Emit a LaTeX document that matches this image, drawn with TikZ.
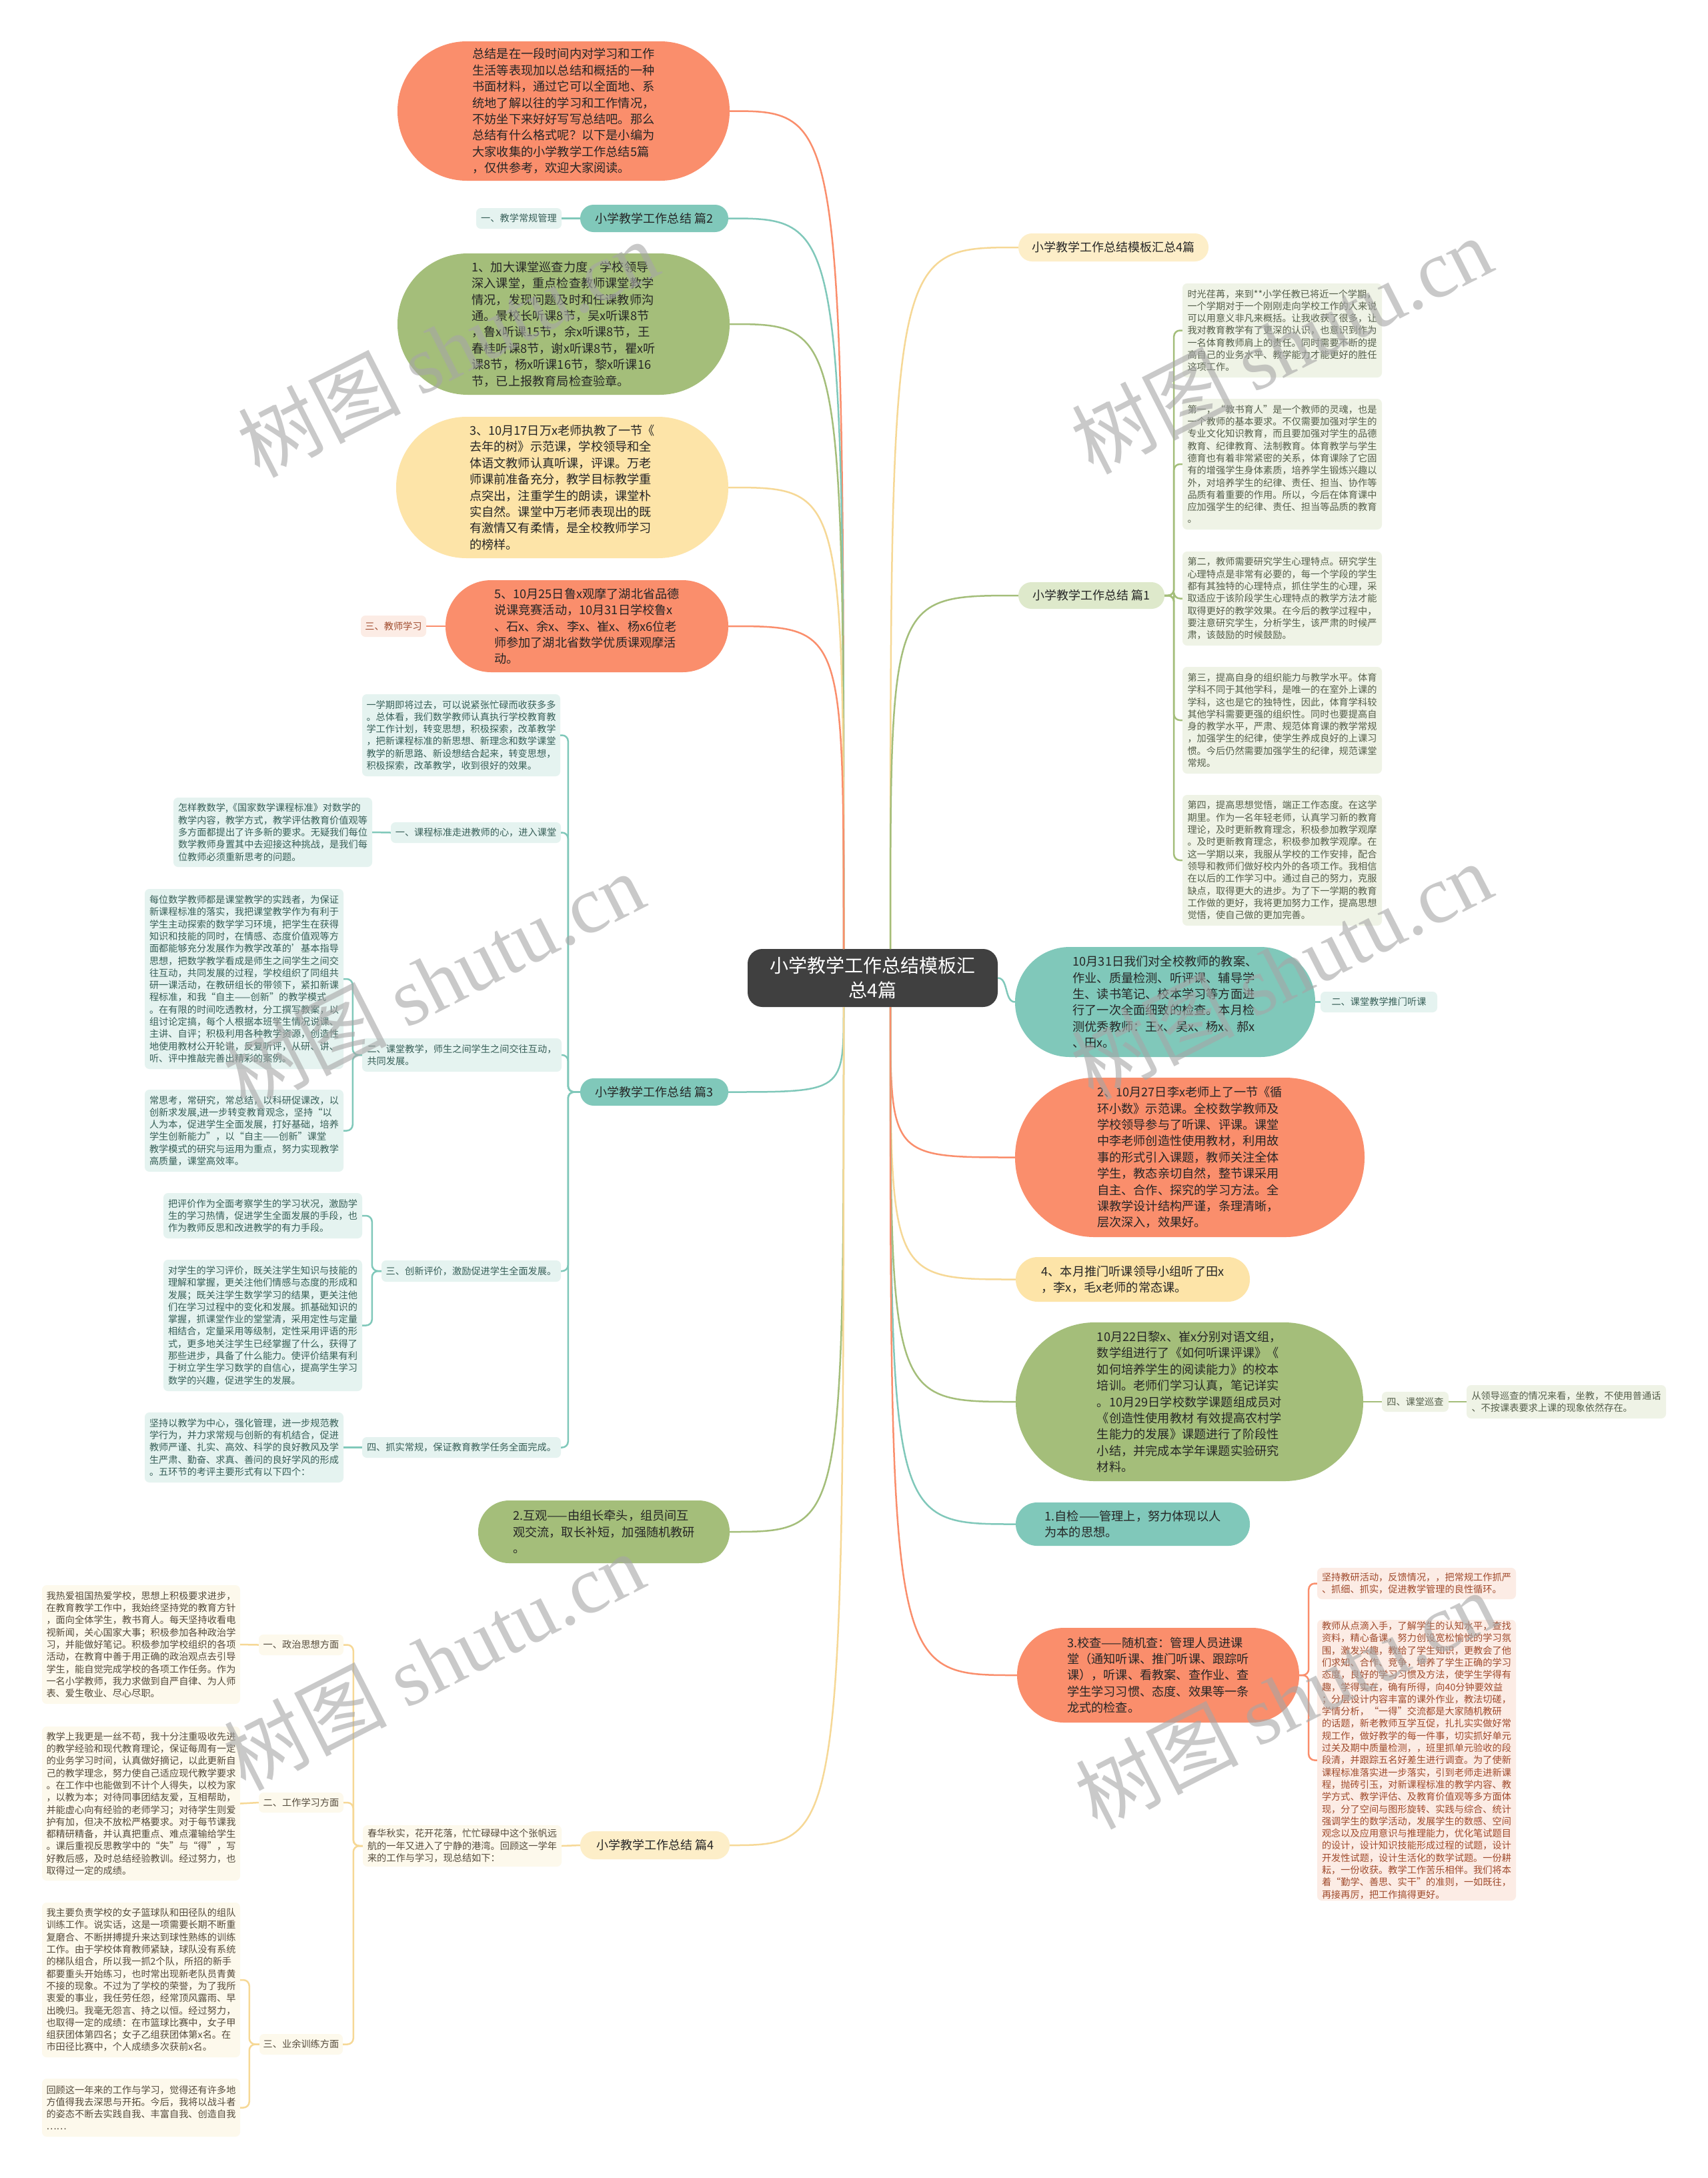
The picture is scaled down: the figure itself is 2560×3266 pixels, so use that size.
\documentclass[tikz,border=0pt]{standalone}
\usepackage{fontspec}
\setmainfont{Noto Sans CJK SC}
\newfontfamily\wmserif{Liberation Serif}
\usetikzlibrary{calc}
\definecolor{tealL}{RGB}{128,200,186}
\definecolor{tealBg}{RGB}{229,243,240}
\definecolor{tealTx}{RGB}{55,95,88}
\definecolor{grn}{RGB}{164,190,122}
\definecolor{grnP}{RGB}{222,233,203}
\definecolor{grnBg}{RGB}{239,243,230}
\definecolor{grnTx}{RGB}{85,95,75}
\definecolor{yel}{RGB}{253,228,168}
\definecolor{yelP}{RGB}{253,238,200}
\definecolor{yelLn}{RGB}{246,216,150}
\definecolor{yelBg}{RGB}{253,249,236}
\definecolor{yelTx}{RGB}{85,75,60}
\definecolor{sal}{RGB}{250,142,108}
\definecolor{salBg}{RGB}{252,236,229}
\definecolor{salTx}{RGB}{160,75,45}
\definecolor{rootc}{RGB}{64,64,64}
\newcommand\NB[7]{%
  \pgfmathsetmacro\cx{(#3+#5)/2}%
  \pgfmathsetmacro\cy{(#4+#6)/2}%
  \pgfmathsetmacro\ww{#5-#3}%
  \pgfmathsetmacro\hh{#6-#4}%
  \pgfmathsetmacro\rr{\hh/2-0.5}%
  \node[#2,minimum width=\ww pt,minimum height=\hh pt] (#1) at (\cx,\cy) {#7};}
\tikzset{
  bub/.style={inner sep=0pt,align=left,rounded corners=\rr pt,font=\fontsize{18.2}{24.4}\selectfont,text=black!85},
  pill/.style={inner sep=0pt,align=center,rounded corners=\rr pt,font=\fontsize{18}{22}\selectfont,text=black!85},
  tbox/.style={inner sep=0pt,align=left,rounded corners=7pt,font=\fontsize{14.2}{18.3}\selectfont},
  cn/.style={line width=2.5pt},
  wm/.style={rotate=27,text=black!35,opacity=0.6,font=\fontsize{122}{122}\selectfont}
}
\begin{document}
\begin{tikzpicture}[x=1pt,y=-1pt]
\fill[white] (0,0) rectangle (2560,3266);
\useasboundingbox (0,0) rectangle (2560,3266);
% root
\NB{root}{inner sep=0pt,rounded corners=22pt,fill=rootc,text=white,align=center,font=\fontsize{28}{37}\selectfont}{1121}{1423}{1496}{1510}{小学教学工作总结模板汇\\总4篇}
% left upper
\NB{intro}{bub,fill=sal}{596}{62}{1094}{271}{总结是在一段时间内对学习和工作\\生活等表现加以总结和概括的一种\\书面材料，通过它可以全面地、系\\统地了解以往的学习和工作情况，\\不妨坐下来好好写写总结吧。那么\\总结有什么格式呢？以下是小编为\\大家收集的小学教学工作总结5篇\\，仅供参考，欢迎大家阅读。}
\NB{p2}{pill,fill=tealL}{870}{307}{1092}{348}{小学教学工作总结 篇2}
\NB{p2a}{tbox,fill=tealBg,text=tealTx}{714}{312}{842}{343}{一、教学常规管理}
\NB{b1}{bub,fill=grn}{596}{380}{1094}{592}{1、加大课堂巡查力度，学校领导\\深入课堂，重点检查教师课堂教学\\情况，发现问题及时和任课教师沟\\通。景校长听课8节，吴x听课8节\\，鲁x听课15节，余x听课8节，王\\春桂听课8节，谢x听课8节，瞿x听\\课8节，杨x听课16节，黎x听课16\\节，已上报教育局检查验章。}
\NB{b3}{bub,fill=yel}{594}{625}{1092}{837}{3、10月17日万x老师执教了一节《\\去年的树》示范课，学校领导和全\\体语文教师认真听课，评课。万老\\师课前准备充分，教学目标教学重\\点突出，注重学生的朗读，课堂朴\\实自然。课堂中万老师表现出的既\\有激情又有柔情，是全校教师学习\\的榜样。}
\NB{b5}{bub,fill=sal}{668}{870}{1092}{1008}{5、10月25日鲁x观摩了湖北省品德\\说课竞赛活动，10月31日学校鲁x\\、石x、余x、李x、崔x、杨x6位老\\师参加了湖北省数学优质课观摩活\\动。}
\NB{b5a}{tbox,fill=salBg,text=salTx}{541}{923}{639}{955}{三、教师学习}
% pian 3
\NB{p3}{pill,fill=tealL}{870}{1617}{1092}{1658}{小学教学工作总结 篇3}
\NB{c0}{tbox,fill=tealBg,text=tealTx}{543}{1041}{840}{1164}{一学期即将过去，可以说紧张忙碌而收获多多\\。总体看，我们数学教师认真执行学校教育教\\学工作计划，转变思想，积极探索，改革教学\\，把新课程标准的新思想、新理念和数学课堂\\教学的新思路、新设想结合起来，转变思想，\\积极探索，改革教学，收到很好的效果。}
\NB{c1}{tbox,fill=tealBg,text=tealTx}{586}{1233}{841}{1264}{一、课程标准走进教师的心，进入课堂}
\NB{c1a}{tbox,fill=tealBg,text=tealTx}{260}{1196}{558}{1300}{怎样教数学,《国家数学课程标准》对数学的\\教学内容，教学方式，教学评估教育价值观等\\多方面都提出了许多新的要求。无疑我们每位\\数学教师身置其中去迎接这种挑战，是我们每\\位教师必须重新思考的问题。}
\NB{c2}{tbox,fill=tealBg,text=tealTx}{543}{1557}{842}{1607}{二、课堂教学，师生之间学生之间交往互动，\\共同发展。}
\NB{c2a}{tbox,fill=tealBg,text=tealTx}{217}{1333}{515}{1603}{每位数学教师都是课堂教学的实践者，为保证\\新课程标准的落实，我把课堂教学作为有利于\\学生主动探索的数学学习环境，把学生在获得\\知识和技能的同时，在情感、态度价值观等方\\面都能够充分发展作为教学改革的'基本指导\\思想，把数学教学看成是师生之间学生之间交\\往互动，共同发展的过程，学校组织了同组共\\研一课活动，在教研组长的带领下，紧扣新课\\程标准，和我“自主——创新”的教学模式\\。在有限的时间吃透教材，分工撰写教案，以\\组讨论定搞，每个人根据本班学生情况说课、\\主讲、自评；积极利用各种教学资源，创造性\\地使用教材公开轮讲，反复听评，从研、讲、\\听、评中推敲完善出精彩的案例。}
\NB{c2b}{tbox,fill=tealBg,text=tealTx}{217}{1634}{515}{1757}{常思考，常研究，常总结，以科研促课改，以\\创新求发展,进一步转变教育观念，坚持“以\\人为本，促进学生全面发展，打好基础，培养\\学生创新能力”，以“自主——创新”课堂\\教学模式的研究与运用为重点，努力实现教学\\高质量，课堂高效率。}
\NB{c3}{tbox,fill=tealBg,text=tealTx}{572}{1890}{841}{1922}{三、创新评价，激励促进学生全面发展。}
\NB{c3a}{tbox,fill=tealBg,text=tealTx}{245}{1789}{543}{1857}{把评价作为全面考察学生的学习状况，激励学\\生的学习热情，促进学生全面发展的手段，也\\作为教师反思和改进教学的有力手段。}
\NB{c3b}{tbox,fill=tealBg,text=tealTx}{245}{1889}{543}{2086}{对学生的学习评价，既关注学生知识与技能的\\理解和掌握，更关注他们情感与态度的形成和\\发展；既关注学生数学学习的结果，更关注他\\们在学习过程中的变化和发展。抓基础知识的\\掌握，抓课堂作业的堂堂清，采用定性与定量\\相结合，定量采用等级制，定性采用评语的形\\式，更多地关注学生已经掌握了什么，获得了\\那些进步，具备了什么能力。使评价结果有利\\于树立学生学习数学的自信心，提高学生学习\\数学的兴趣，促进学生的发展。}
\NB{c4}{tbox,fill=tealBg,text=tealTx}{543}{2155}{841}{2186}{四、抓实常规，保证教育教学任务全面完成。}
\NB{c4a}{tbox,fill=tealBg,text=tealTx}{217}{2118}{515}{2223}{坚持以教学为中心，强化管理，进一步规范教\\学行为，并力求常规与创新的有机结合，促进\\教师严谨、扎实、高效、科学的良好教风及学\\生严肃、勤奋、求真、善问的良好学风的形成\\。五环节的考评主要形式有以下四个：}
\NB{hu}{bub,fill=grn}{717}{2250}{1094}{2344}{2.互观——由组长牵头，组员间互\\观交流，取长补短，加强随机教研\\。}
% pian 4
\NB{p4}{pill,fill=yelP}{870}{2746}{1094}{2788}{小学教学工作总结 篇4}
\NB{d0}{tbox,fill=yelBg,text=yelTx}{544}{2737}{842}{2799}{春华秋实，花开花落，忙忙碌碌中这个张帆远\\航的一年又进入了宁静的港湾。回顾这一学年\\来的工作与学习，现总结如下：}
\NB{d1}{tbox,fill=yelBg,text=yelTx}{388}{2451}{515}{2482}{一、政治思想方面}
\NB{d1a}{tbox,fill=yelBg,text=yelTx}{63}{2377}{360}{2555}{我热爱祖国热爱学校，思想上积极要求进步，\\在教育教学工作中，我始终坚持党的教育方针\\，面向全体学生，教书育人。每天坚持收看电\\视新闻，关心国家大事；积极参加各种政治学\\习，并能做好笔记。积极参加学校组织的各项\\活动，在教育中善于用正确的政治观点去引导\\学生，能自觉完成学校的各项工作任务。作为\\一名小学教师，我力求做到自严自律、为人师\\表、爱生敬业、尽心尽职。}
\NB{d2}{tbox,fill=yelBg,text=yelTx}{388}{2688}{515}{2718}{二、工作学习方面}
\NB{d2a}{tbox,fill=yelBg,text=yelTx}{63}{2589}{360}{2820}{教学上我更是一丝不苟，我十分注重吸收先进\\的教学经验和现代教育理论，保证每周有一定\\的业务学习时间，认真做好摘记，以此更新自\\己的教学理念，努力使自己适应现代教学要求\\。在工作中也能做到不计个人得失，以校为家\\，以教为本；对待同事团结友爱，互相帮助，\\并能虚心向有经验的老师学习；对待学生则爱\\护有加，但决不放松严格要求。对于每节课我\\都精研精备，并认真把重点、难点灌输给学生\\。课后重视反思教学中的“失”与“得”，写\\好教后感，及时总结经验教训。经过努力，也\\取得过一定的成绩。}
\NB{d3}{tbox,fill=yelBg,text=yelTx}{389}{3050}{514}{3081}{三、业余训练方面}
\NB{d3a}{tbox,fill=yelBg,text=yelTx}{63}{2853}{360}{3085}{我主要负责学校的女子篮球队和田径队的组队\\训练工作。说实话，这是一项需要长期不断重\\复磨合、不断拼搏提升来达到球性熟练的训练\\工作。由于学校体育教师紧缺，球队没有系统\\的梯队组合，所以我一抓2个队，所招的新手\\都要重头开始练习，也时常出现新老队员青黄\\不接的现象。不过为了学校的荣誉，为了我所\\衷爱的事业，我任劳任怨，经常顶风露雨、早\\出晚归。我毫无怨言、持之以恒。经过努力，\\也取得一定的成绩：在市篮球比赛中，女子甲\\组获团体第四名；女子乙组获团体第x名。在\\市田径比赛中，个人成绩多次获前x名。}
\NB{d3b}{tbox,fill=yelBg,text=yelTx}{63}{3117}{360}{3204}{回顾这一年来的工作与学习，觉得还有许多地\\方值得我去深思与开拓。今后，我将以战斗者\\的姿态不断去实践自我、丰富自我、创造自我\\……}
% right side
\NB{sum4}{pill,fill=yelP}{1527}{350}{1812}{392}{小学教学工作总结模板汇总4篇}
\NB{p1}{pill,fill=grnP}{1527}{873}{1746}{913}{小学教学工作总结 篇1}
\NB{r1a}{tbox,fill=grnBg,text=grnTx}{1773}{425}{2072}{566}{时光荏苒，来到**小学任教已将近一个学期，\\一个学期对于一个刚刚走向学校工作的人来说\\可以用意义非凡来概括。让我收获了很多，让\\我对教育教学有了更深的认识，也意识到作为\\一名体育教师肩上的责任。同时需要不断的提\\高自己的业务水平、教学能力才能更好的胜任\\这项工作。}
\NB{r1b}{tbox,fill=grnBg,text=grnTx}{1773}{598}{2072}{794}{第一，“教书育人”是一个教师的灵魂，也是\\一个教师的基本要求。不仅需要加强对学生的\\专业文化知识教育，而且要加强对学生的品德\\教育、纪律教育、法制教育。体育教学与学生\\德育也有着非常紧密的关系，体育课除了它固\\有的增强学生身体素质，培养学生锻炼兴趣以\\外，对培养学生的纪律、责任、担当、协作等\\品质有着重要的作用。所以，今后在体育课中\\应加强学生的纪律、责任、担当等品质的教育\\。}
\NB{r1c}{tbox,fill=grnBg,text=grnTx}{1773}{827}{2072}{968}{第二，教师需要研究学生心理特点。研究学生\\心理特点是非常有必要的，每一个学段的学生\\都有其独特的心理特点，抓住学生的心理，采\\取适应于该阶段学生心理特点的教学方法才能\\取得更好的教学效果。在今后的教学过程中，\\要注意研究学生，分析学生，该严肃的时候严\\肃，该鼓励的时候鼓励。}
\NB{r1d}{tbox,fill=grnBg,text=grnTx}{1773}{1000}{2072}{1160}{第三，提高自身的组织能力与教学水平。体育\\学科不同于其他学科，是唯一的在室外上课的\\学科，这也是它的独特性，因此，体育学科较\\其他学科需要更强的组织性。同时也要提高自\\身的教学水平，严肃、规范体育课的教学常规\\，加强学生的纪律，使学生养成良好的上课习\\惯。今后仍然需要加强学生的纪律，规范课堂\\常规。}
\NB{r1e}{tbox,fill=grnBg,text=grnTx}{1773}{1192}{2072}{1388}{第四，提高思想觉悟，端正工作态度。在这学\\期里。作为一名年轻老师，认真学习新的教育\\理论，及时更新教育理念，积极参加教学观摩\\。及时更新教育理念，积极参加教学观摩。在\\这一学期以来，我服从学校的工作安排，配合\\领导和教师们做好校内外的各项工作。我相信\\在以后的工作学习中。通过自己的努力，克服\\缺点，取得更大的进步。为了下一学期的教育\\工作做的更好，我将更加努力工作，提高思想\\觉悟，使自己做的更加完善。}
\NB{t31}{bub,fill=tealL}{1522}{1420}{1972}{1585}{10月31日我们对全校教师的教案、\\作业、质量检测、听评课、辅导学\\生、读书笔记、校本学习等方面进\\行了一次全面细致的检查。本月检\\测优秀教师：王x、吴x、杨x、郝x\\、田x。}
\NB{t31a}{tbox,fill=tealBg,text=tealTx}{1980}{1487}{2155}{1518}{二、课堂教学推门听课}
\NB{s27}{bub,fill=sal}{1522}{1616}{2046}{1855}{2、10月27日李x老师上了一节《循\\环小数》示范课。全校数学教师及\\学校领导参与了听课、评课。课堂\\中李老师创造性使用教材，利用故\\事的形式引入课题，教师关注全体\\学生，教态亲切自然，整节课采用\\自主、合作、探究的学习方法。全\\课教学设计结构严谨，条理清晰，\\层次深入，效果好。}
\NB{y4}{bub,fill=yel}{1523}{1885}{1874}{1952}{4、本月推门听课领导小组听了田x\\，李x，毛x老师的常态课。}
\NB{g22}{bub,fill=grn}{1523}{1983}{2044}{2221}{10月22日黎x、崔x分别对语文组，\\数学组进行了《如何听课评课》《\\如何培养学生的阅读能力》的校本\\培训。老师们学习认真，笔记详实\\。10月29日学校数学课题组成员对\\《创造性使用教材 有效提高农村学\\生能力的发展》课题进行了阶段性\\小结，并完成本学年课题实验研究\\材料。}
\NB{g22a}{tbox,fill=grnBg,text=grnTx}{2072}{2087}{2172}{2117}{四、课堂巡查}
\NB{g22b}{tbox,fill=grnBg,text=grnTx}{2199}{2077}{2498}{2127}{从领导巡查的情况来看，坐教，不使用普通话\\、不按课表要求上课的现象依然存在。}
\NB{zj}{bub,fill=tealL}{1523}{2253}{1874}{2318}{1.自检——管理上，努力体现以人\\为本的思想。}
\NB{xc}{bub,fill=sal}{1525}{2441}{1948}{2583}{3.校查——随机查：管理人员进课\\堂（通知听课、推门听课、跟踪听\\课），听课、看教案、查作业、查\\学生学习习惯、态度、效果等一条\\龙式的检查。}
\NB{xc1}{tbox,fill=salBg,text=salTx}{1975}{2351}{2273}{2398}{坚持教研活动，反馈情况，，把常规工作抓严\\、抓细、抓实，促进教学管理的良性循环。}
\NB{xc2}{tbox,fill=salBg,text=salTx}{1975}{2429}{2273}{2850}{教师从点滴入手，了解学生的认知水平，查找\\资料，精心备课，努力创设宽松愉悦的学习氛\\围，激发兴趣，教给了学生知识，更教会了他\\们求知、合作、竞争，培养了学生正确的学习\\态度，良好的学习习惯及方法，使学生学得有\\趣，学得实在，确有所得，向40分钟要效益\\；分层设计内容丰富的课外作业，教法切磋，\\学情分析，“一得”交流都是大家随机教研\\的话题，新老教师互学互促，扎扎实实做好常\\规工作，做好教学的每一件事，切实抓好单元\\过关及期中质量检测，，班里抓单元验收的段\\段清，并跟踪五名好差生进行调查。为了使新\\课程标准落实进一步落实，引到老师走进新课\\程，抛砖引玉，对新课程标准的教学内容、教\\学方式、教学评估、及教育价值观等多方面体\\现，分了空间与图形旋转、实践与综合、统计\\强调学生的数学活动，发展学生的数感、空间\\观念以及应用意识与推理能力，优化笔试题目\\的设计，设计知识技能形成过程的试题，设计\\开发性试题，设计生活化的数学试题。一份耕\\耘，一份收获。教学工作苦乐相伴。我们将本\\着“勤学、善思、实干”的准则，一如既往，\\再接再厉，把工作搞得更好。}
% root connectors
\coordinate (AL) at (1265,1423);
\coordinate (AR) at (1335,1423);
\coordinate (BL) at (1265,1510);
\coordinate (BR) at (1335,1510);
\draw[cn,sal] (AL) .. controls (AL |- intro.east) .. (intro.east);
\draw[cn,tealL] (AL) .. controls (AL |- p2.east) .. (p2.east);
\draw[cn,grn] (AL) .. controls (AL |- b1.east) .. (b1.east);
\draw[cn,yelLn] (AL) .. controls (AL |- b3.east) .. (b3.east);
\draw[cn,sal] (AL) .. controls (AL |- b5.east) .. (b5.east);
\draw[cn,tealL] (BL) .. controls (BL |- p3.east) .. (p3.east);
\draw[cn,grn] (BL) .. controls (BL |- hu.east) .. (hu.east);
\draw[cn,yelLn] (BL) .. controls (BL |- p4.east) .. (p4.east);
\draw[cn,yelLn] (AR) .. controls (AR |- sum4.west) .. (sum4.west);
\draw[cn,grn] (AR) .. controls (AR |- p1.west) .. (p1.west);
\draw[cn,tealL] (root.east) .. controls +(16,0) and +(-16,0) .. (t31.west);
\draw[cn,sal] (BR) .. controls (BR |- s27.west) .. (s27.west);
\draw[cn,yelLn] (BR) .. controls (BR |- y4.west) .. (y4.west);
\draw[cn,grn] (BR) .. controls (BR |- g22.west) .. (g22.west);
\draw[cn,tealL] (BR) .. controls (BR |- zj.west) .. (zj.west);
\draw[cn,sal] (BR) .. controls (BR |- xc.west) .. (xc.west);
% child connectors
\draw[cn,tealL] (p2.west) -- (p2a.east);
\draw[cn,sal] (b5.west) -- (b5a.east);
\foreach \t in {c0,c1,c2,c3,c4}{\draw[cn,tealL,rounded corners=9pt] (p3.west) -- ++(-18,0) |- (\t.east);}
\draw[cn,tealL] (c1.west) -- (c1a.east);
\foreach \t in {c2a,c2b}{\draw[cn,tealL,rounded corners=9pt] (c2.west) -- ++(-14,0) |- (\t.east);}
\foreach \t in {c3a,c3b}{\draw[cn,tealL,rounded corners=9pt] (c3.west) -- ++(-14,0) |- (\t.east);}
\draw[cn,tealL] (c4.west) -- (c4a.east);
\draw[cn,yelLn] (p4.west) -- (d0.east);
\foreach \t in {d1,d2,d3}{\draw[cn,yelLn,rounded corners=9pt] (d0.west) -- ++(-14,0) |- (\t.east);}
\draw[cn,yelLn] (d1.west) -- (d1a.east);
\draw[cn,yelLn] (d2.west) -- (d2a.east);
\foreach \t in {d3a,d3b}{\draw[cn,yelLn,rounded corners=9pt] (d3.west) -- ++(-15,0) |- (\t.east);}
\foreach \t in {r1a,r1b,r1c,r1d,r1e}{\draw[cn,grn,rounded corners=9pt] (p1.east) -- ++(14,0) |- (\t.west);}
\draw[cn,tealL] (t31.east) -- (t31a.west);
\draw[cn,grn] (g22.east) -- (g22a.west);
\draw[cn,grn] (g22a.east) -- (g22b.west);
\foreach \t in {xc1,xc2}{\draw[cn,sal,rounded corners=9pt] (xc.east) -- ++(14,0) |- (\t.west);}
% watermarks
\node[wm] (w1) at (671,522) {树图 {\wmserif shutu.cn}};
\node[wm] (w2) at (1921,517) {树图 {\wmserif shutu.cn}};
\node[wm] (w3) at (650,1470) {树图 {\wmserif shutu.cn}};
\node[wm] (w4) at (1921,1455) {树图 {\wmserif shutu.cn}};
\node[wm] (w5) at (650,2490) {树图 {\wmserif shutu.cn}};
\node[wm] (w6) at (1927,2548) {树图 {\wmserif shutu.cn}};
\end{tikzpicture}
\end{document}
